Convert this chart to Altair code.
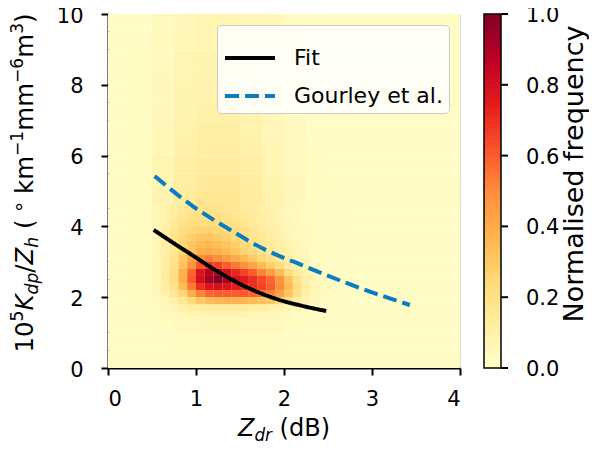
import altair as alt
import pandas as pd

# ---------------- data ----------------
# coarse background density grid (percent of max), x bins 0.25 dB from 0..4, y bins 0.5 from 10 down to 0
COARSE_X_EDGES = [i * 0.25 for i in range(17)]
COARSE_Y_EDGES_TOP_DOWN = [10 - i * 0.5 for i in range(21)]
COARSE = [
    [2, 2, 4, 6, 7, 7, 6, 5, 3, 2, 2, 2, 2, 2, 2, 2],
    [2, 2, 4, 6, 7, 7, 6, 5, 3, 2, 2, 2, 2, 2, 2, 2],
    [2, 3, 4, 7, 8, 8, 7, 5, 3, 2, 2, 2, 2, 2, 2, 2],
    [2, 3, 5, 7, 8, 8, 7, 5, 3, 2, 2, 2, 2, 2, 2, 2],
    [2, 3, 5, 8, 9, 9, 8, 6, 3, 2, 2, 2, 2, 2, 2, 2],
    [2, 3, 5, 8, 10, 10, 8, 6, 3, 2, 2, 2, 2, 2, 2, 2],
    [2, 3, 6, 9, 11, 11, 9, 6, 4, 2, 2, 2, 2, 2, 2, 2],
    [2, 3, 6, 10, 12, 12, 10, 7, 4, 3, 2, 2, 2, 2, 2, 2],
    [2, 3, 7, 11, 13, 13, 11, 7, 4, 3, 2, 2, 2, 2, 2, 2],
    [2, 3, 7, 12, 14, 14, 12, 8, 5, 3, 2, 2, 2, 2, 2, 2],
    [2, 3, 8, 13, 16, 16, 13, 9, 5, 3, 2, 2, 2, 2, 2, 2],
    [2, 3, 8, 14, 18, 18, 14, 9, 5, 3, 2, 2, 2, 2, 2, 2],
    [2, 3, 8, 15, 20, 20, 15, 10, 5, 3, 2, 2, 2, 2, 2, 2],
    [2, 3, 8, 15, 20, 20, 15, 10, 5, 3, 2, 2, 2, 2, 2, 2],
    [2, 3, 8, 15, 20, 20, 15, 10, 5, 3, 2, 2, 2, 2, 2, 2],
    [2, 3, 8, 15, 20, 20, 15, 10, 5, 3, 2, 2, 2, 2, 2, 2],
    [2, 3, 6, 10, 12, 12, 10, 8, 5, 3, 2, 2, 2, 2, 2, 2],
    [2, 2, 3, 4, 5, 5, 4, 4, 3, 2, 2, 2, 2, 2, 2, 2],
    [2, 2, 2, 3, 3, 3, 3, 3, 2, 2, 2, 2, 2, 2, 2, 2],
    [2, 2, 2, 2, 2, 2, 2, 2, 2, 2, 2, 2, 2, 2, 2, 2],
]

# fine core density grid (percent of max), x bins 0.1 dB from 0.4..2.8, y bins 0.2 from 4.6 down to 1.4
FINE_X_EDGES = [round(0.4 + i * 0.1, 2) for i in range(25)]
FINE_Y_EDGES_TOP_DOWN = [round(4.6 - i * 0.2, 2) for i in range(17)]
FINE = [
    [3, 5, 8, 12, 15, 17, 18, 18, 18, 17, 16, 14, 12, 10, 9, 7, 5, 4, 3, 3, 2, 2, 2, 2],
    [3, 5, 9, 13, 17, 19, 20, 20, 20, 19, 17, 15, 13, 11, 9, 7, 5, 4, 3, 3, 2, 2, 2, 2],
    [3, 6, 10, 15, 19, 21, 22, 22, 22, 21, 19, 17, 14, 12, 10, 8, 6, 4, 3, 3, 2, 2, 2, 2],
    [3, 6, 11, 17, 22, 25, 27, 27, 26, 24, 22, 19, 16, 13, 11, 9, 6, 5, 4, 3, 2, 2, 2, 2],
    [3, 6, 11, 18, 24, 28, 31, 31, 29, 27, 24, 21, 18, 15, 12, 10, 7, 5, 4, 3, 3, 2, 2, 2],
    [3, 6, 11, 18, 26, 31, 35, 36, 34, 31, 28, 24, 20, 17, 14, 11, 8, 6, 4, 3, 3, 2, 2, 2],
    [3, 6, 10, 16, 24, 32, 38, 40, 38, 35, 31, 27, 23, 19, 15, 12, 9, 6, 5, 3, 3, 2, 2, 2],
    [3, 6, 11, 19, 30, 42, 50, 53, 50, 45, 40, 35, 30, 25, 20, 15, 11, 7, 5, 3, 3, 2, 2, 2],
    [3, 6, 12, 20, 32, 48, 62, 68, 66, 60, 54, 48, 42, 35, 28, 21, 14, 9, 6, 4, 3, 2, 2, 2],
    [3, 6, 13, 22, 38, 58, 78, 88, 88, 80, 72, 66, 60, 52, 44, 34, 22, 13, 8, 5, 3, 2, 2, 2],
    [3, 6, 12, 21, 38, 60, 80, 92, 100, 90, 80, 75, 70, 64, 58, 47, 32, 19, 10, 6, 4, 3, 2, 2],
    [3, 5, 11, 19, 34, 54, 70, 78, 80, 78, 74, 72, 70, 66, 60, 50, 35, 22, 12, 6, 4, 3, 2, 2],
    [3, 5, 9, 15, 26, 40, 52, 58, 60, 60, 60, 60, 59, 57, 52, 44, 32, 20, 11, 6, 4, 3, 2, 2],
    [3, 4, 6, 10, 16, 24, 30, 34, 36, 37, 37, 36, 35, 33, 30, 25, 18, 12, 7, 5, 3, 2, 2, 2],
    [2, 3, 5, 7, 10, 12, 13, 14, 14, 14, 14, 13, 12, 11, 10, 9, 7, 5, 4, 3, 2, 2, 2, 2],
    [2, 3, 4, 5, 6, 7, 7, 7, 7, 7, 7, 7, 6, 6, 5, 5, 4, 3, 3, 2, 2, 2, 2, 2],
]

FIT_X = [0.52, 0.75, 0.95, 1.21, 1.52, 1.89, 2.20, 2.48]
FIT_Y = [3.90, 3.52, 3.20, 2.78, 2.35, 1.97, 1.76, 1.61]
GOURLEY_X = [0.53, 0.97, 1.35, 1.78, 2.22, 2.67, 3.09, 3.43]
GOURLEY_Y = [5.42, 4.56, 3.96, 3.35, 2.89, 2.44, 2.06, 1.78]

X_TICKS = [0, 1, 2, 3, 4]
Y_TICKS = [0, 2, 4, 6, 8, 10]
CBAR_TICKS = [0.0, 0.2, 0.4, 0.6, 0.8, 1.0]
SERIES = ["Fit", "Gourley et al."]
# YlOrRd (ColorBrewer, as in matplotlib)
YLORRD = ["#ffffcc", "#ffeda0", "#fed976", "#feb24c", "#fd8d3c",
          "#fc4e2a", "#e31a1c", "#bd0026", "#800026"]

# ---------------- build tables ----------------
def grid_frame(grid, xe, ye_top_down):
    rows = []
    for r, row in enumerate(grid):
        for c, v in enumerate(row):
            rows.append({"x0": xe[c], "x1": xe[c + 1],
                         "y0": ye_top_down[r + 1], "y1": ye_top_down[r],
                         "v": v / 100.0})
    return pd.DataFrame(rows)

coarse_df = grid_frame(COARSE, COARSE_X_EDGES, COARSE_Y_EDGES_TOP_DOWN)
fine_df = grid_frame(FINE, FINE_X_EDGES, FINE_Y_EDGES_TOP_DOWN)

lines_df = pd.concat([
    pd.DataFrame({"x": FIT_X, "y": FIT_Y, "series": SERIES[0], "o": range(len(FIT_X))}),
    pd.DataFrame({"x": GOURLEY_X, "y": GOURLEY_Y, "series": SERIES[1], "o": range(len(GOURLEY_X))}),
])

W, H = 352, 354
FONT = "DejaVu Sans"
xs = alt.Scale(domain=[0, 4], nice=False, zero=False)
ys = alt.Scale(domain=[0, 10], nice=False, zero=False)
cscale = alt.Scale(domain=[i / 8 for i in range(9)], range=YLORRD, interpolate="rgb")

AX = dict(grid=False, labelFontSize=21, tickSize=7, tickWidth=2, domainWidth=2,
          domainColor="black", tickColor="black", labelColor="black", labelFont=FONT, title=None)
x_axis = alt.Axis(values=X_TICKS, labelPadding=13, **AX)
y_axis = alt.Axis(values=Y_TICKS, labelPadding=18, labelOffset=2, **AX)

CB_X0 = 376          # colorbar left edge, px from plot origin
CB_W = 17
cbar_legend = alt.Legend(orient="none", legendX=CB_X0, legendY=0,
                         direction="vertical", title=None, type="gradient",
                         gradientLength=H, gradientThickness=CB_W,
                         labelOpacity=0, labelFontSize=8,
                         gradientStrokeColor="black", gradientStrokeWidth=1.5)

def heat_layer(df):
    return alt.Chart(df).mark_rect(strokeWidth=0).encode(
        x=alt.X("x0:Q", scale=xs, axis=x_axis),
        x2="x1:Q",
        y=alt.Y("y0:Q", scale=ys, axis=y_axis),
        y2="y1:Q",
        color=alt.Color("v:Q", scale=cscale, legend=cbar_legend),
    )

heat = alt.layer(heat_layer(coarse_df), heat_layer(fine_df))

line_legend = alt.Legend(orient="top-right", offset=11, title=None, symbolType="stroke",
                         symbolSize=2500, symbolStrokeWidth=4, labelFontSize=22, labelFont=FONT,
                         labelColor="black", labelOffset=17,
                         fillColor="rgba(255,255,255,0.85)", strokeColor="#cccccc",
                         cornerRadius=4, padding=6, rowPadding=-14)
lines = alt.Chart(lines_df).mark_line(strokeWidth=4, interpolate="monotone").encode(
    x=alt.X("x:Q", scale=xs, axis=x_axis),
    y=alt.Y("y:Q", scale=ys, axis=y_axis),
    order="o:Q",
    color=alt.Color("series:N", scale=alt.Scale(domain=SERIES, range=["#000000", "#0a7cc1"]),
                    legend=line_legend),
    strokeDash=alt.StrokeDash("series:N", scale=alt.Scale(domain=SERIES, range=[[1, 0], [14, 6]]),
                              legend=line_legend),
)

# colorbar ticks and labels (colorbar spans the same height as the plot: value v sits at y = 10 v)
cb_df = pd.DataFrame({"yv": [v * 10 for v in CBAR_TICKS],
                      "lab": [f"{v:.1f}" for v in CBAR_TICKS]})
cb_ticks = alt.Chart(cb_df).mark_rule(strokeWidth=2, color="black").encode(
    y=alt.Y("yv:Q", scale=ys, axis=y_axis),
    x=alt.value(CB_X0 + CB_W), x2=alt.value(CB_X0 + CB_W + 7),
)
cb_labels = alt.Chart(cb_df).mark_text(align="left", baseline="middle", font=FONT,
                                       fontSize=21, color="black", dy=2).encode(
    y=alt.Y("yv:Q", scale=ys, axis=y_axis),
    x=alt.value(CB_X0 + CB_W + 25),
    text="lab:N",
)

# ---------------- composite axis titles (mathtext-like) ----------------
WID = {'0': .636, '1': .636, '2': .636, '3': .636, '5': .636, '6': .636, ' ': .318,
       '(': .390, ')': .390, '/': .337, 'k': .579, 'm': .974, '−': .838, '°': .5,
       'd': .635, 'B': .686, 'K': .656, 'Z': .685, 'p': .635, 'r': .411, 'h': .634}

def layout(pieces, F):
    out, pos = [], 0.0
    for txt, ital, sc, shift in pieces:
        size = F * sc
        lead = len(txt) - len(txt.lstrip(" "))
        pos += lead * WID[" "] * size
        core = txt.strip(" ")
        out.append((core, ital, size, pos, shift * F))
        pos += sum(WID[c] for c in core) * size
        pos += (len(txt) - lead - len(core)) * WID[" "] * size
    return out, pos

def text_mark(txt, ital, size, x, y, angle, align="left"):
    kw = dict(align=align, baseline="alphabetic", font=FONT, fontSize=size, color="black")
    if ital:
        kw["fontStyle"] = "italic"
    if angle:
        kw["angle"] = angle
    return alt.Chart(pd.DataFrame([{"t": txt}])).mark_text(**kw).encode(
        x=alt.value(x), y=alt.value(y), text="t:N")

texts = []
XF = 24
xp, xtot = layout([("Z", True, 1, 0), ("dr", True, 0.7, -0.2), (" (dB)", False, 1, 0)], XF)
x_start = W / 2 - xtot / 2
for txt, ital, size, pos, sh in xp:
    texts.append(text_mark(txt, ital, size, x_start + pos, 422 - sh, 0))

YF = 24.5
yp, ytot = layout([("10", False, 1, 0), ("5", False, 0.7, 0.42), ("K", True, 1, 0),
                   ("dp", True, 0.7, -0.22), ("/", False, 1, 0), ("Z", True, 1, 0),
                   ("h", True, 0.7, -0.22), (" ( ", False, 1, 0), ("°", False, 0.8, 0.1),
                   (" km", False, 1, 0), ("−1", False, 0.7, 0.42), ("mm", False, 1, 0),
                   ("−6", False, 0.7, 0.42), ("m", False, 1, 0), ("3", False, 0.7, 0.42),
                   (")", False, 1, 0)], YF)
y_start = 169 + ytot / 2
for txt, ital, size, pos, sh in yp:
    texts.append(text_mark(txt, ital, size, -75 - sh, y_start - pos, 270))

texts.append(text_mark("Normalised frequency", False, 27, 475, 160, 270, align="center"))

chart = alt.layer(heat, lines, cb_ticks, cb_labels, *texts).resolve_scale(
    color="independent", strokeDash="independent"
).properties(
    width=W, height=H,
    padding={"left": 100, "top": 6, "right": 129, "bottom": 77},
    autosize=alt.AutoSizeParams(type="none"),
).configure_view(stroke="black", strokeWidth=2).configure(font=FONT)

chart.save("out.html", embed_options={"renderer": "svg", "actions": False})
